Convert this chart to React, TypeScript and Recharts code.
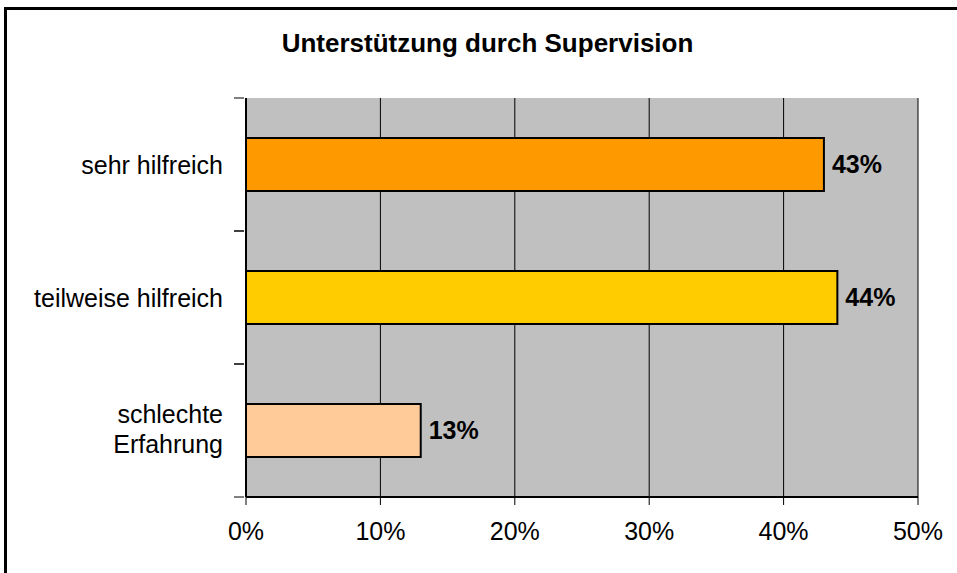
import React from 'react';
import {
  BarChart,
  Bar,
  XAxis,
  YAxis,
  CartesianGrid,
  Cell,
  LabelList,
} from 'recharts';

const categories = ['sehr hilfreich', 'teilweise hilfreich', 'schlechte Erfahrung'];
const shares = [43, 44, 13];
const barColors = ['#FF9900', '#FFCC00', '#FFCC99'];
const xTicks = [0, 10, 20, 30, 40, 50];
const title = 'Unterstützung durch Supervision';

const data = categories.map((name, i) => ({ name, value: shares[i] }));

const FONT = 'Liberation Sans, Arial, sans-serif';

// category label centred in its band, tick marks at the band edges
const CategoryTick = (props: any) => {
  const { x, y, payload } = props;
  const half = payload.offset || 66.5;
  const lines = payload.value === 'schlechte Erfahrung' ? ['schlechte', 'Erfahrung'] : [payload.value];
  const lh = 30;
  const startY = y - ((lines.length - 1) * lh) / 2 - (lines.length > 1 ? 2 : 0);
  return (
    <g>
      <line x1={x - 4} x2={x + 6} y1={y - half} y2={y - half} stroke="#000" />
      <line x1={x - 4} x2={x + 6} y1={y + half} y2={y + half} stroke="#000" />
      <text x={x - 15} y={startY} textAnchor="end" dominantBaseline="central" fontSize={25} fill="#000" fontFamily={FONT}>
        {lines.map((l, i) => (
          <tspan key={i} x={x - 15} dy={i === 0 ? 0 : lh}>
            {l}
          </tspan>
        ))}
      </text>
    </g>
  );
};

export default function App() {
  return (
    <div style={{ position: 'absolute', left: 0, top: 0, width: 957, height: 573, background: '#fff', overflow: 'hidden' }}>
      <div style={{ position: 'absolute', left: 4, top: 7, width: 1000, height: 700, borderLeft: '3px solid #000', borderTop: '3px solid #000' }} />
      <div style={{ position: 'absolute', left: 0, top: 28, width: 975, textAlign: 'center', fontFamily: FONT, fontWeight: 'bold', fontSize: 26 }}>
        {title}
      </div>
      <div style={{ position: 'absolute', left: 0, top: 0 }}>
        <BarChart
          width={957}
          height={573}
          data={data}
          layout="vertical"
          margin={{ top: 98, right: 39, bottom: 0, left: 0 }}
        >
          <CartesianGrid horizontal={false} stroke="#000" fill="#C0C0C0" fillOpacity={1} />
          <XAxis
            type="number"
            domain={[0, 50]}
            ticks={xTicks}
            interval={0}
            tickFormatter={(v: number) => `${v}%`}
            stroke="#000"
            tickSize={8}
            tickMargin={17}
            tick={{ fontSize: 25, fill: '#000', fontFamily: FONT }}
            axisLine={{ stroke: '#000', strokeWidth: 2 }}
            height={76}
          />
          <XAxis xAxisId="top" type="number" orientation="top" domain={[0, 50]} tick={false} tickLine={false} axisLine={{ stroke: '#808080', strokeWidth: 2 }} height={0} />
          <YAxis
            type="category"
            dataKey="name"
            width={246}
            tickLine={false}
            tick={<CategoryTick />}
            axisLine={{ stroke: '#000', strokeWidth: 2 }}
          />
          <YAxis yAxisId="right" type="category" dataKey="name" orientation="right" tick={false} tickLine={false} axisLine={{ stroke: '#808080', strokeWidth: 2 }} width={0} />
          <Bar dataKey="value" barSize={53} stroke="#000" strokeWidth={2} isAnimationActive={false}>
            {data.map((d, i) => (
              <Cell key={d.name} fill={barColors[i]} />
            ))}
            <LabelList
              dataKey="value"
              position="right"
              offset={8}
              formatter={(v: any) => `${v}%`}
              style={{ fontSize: 25, fontWeight: 'bold', fill: '#000', fontFamily: FONT }}
            />
          </Bar>
        </BarChart>
      </div>
    </div>
  );
}
